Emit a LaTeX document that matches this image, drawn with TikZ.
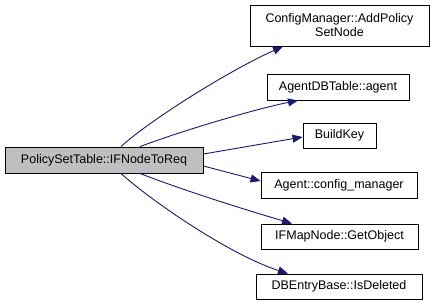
\documentclass[tikz,border=0pt]{standalone}
\usepackage{fontspec}
\setmainfont{Liberation Sans}
\usetikzlibrary{arrows.meta}
\definecolor{edgeblue}{RGB}{25,25,112}
\definecolor{rootgray}{RGB}{191,191,191}
\tikzset{
  fn/.style={draw=black, line width=0.9pt, fill=white, inner sep=0pt, font=\fontsize{12.5}{14}\selectfont, align=center},
  call/.style={draw=edgeblue, line width=0.9pt, -{Triangle[length=10pt,width=8pt]}},
}
\begin{document}
\begin{tikzpicture}[x=1pt,y=-1pt]
\useasboundingbox (0,0) rectangle (433,306);
% caller
\node[fn, fill=rootgray, minimum width=198, minimum height=26] (root) at (104,160) {PolicySetTable::IFNodeToReq};
% callees
\node[fn, minimum width=179, minimum height=41] (cm) at (339.5,25.5) {ConfigManager::AddPolicy\\SetNode};
\node[fn, minimum width=142, minimum height=26] (adb) at (338,87) {AgentDBTable::agent};
\node[fn, minimum width=73, minimum height=25] (bk) at (339.5,135.5) {BuildKey};
\node[fn, minimum width=156, minimum height=26] (acm) at (339,185) {Agent::config\_manager};
\node[fn, minimum width=157, minimum height=25] (go) at (339.5,236.5) {IFMapNode::GetObject};
\node[fn, minimum width=166, minimum height=25] (del) at (339,286.5) {DBEntryBase::IsDeleted};
% call edges
\draw[call] (root.north -| 121,0) .. controls (150,120) and (230,70) .. (cm.south -| 283,0);
\draw[call] (root.north -| 140,0) .. controls (190,128) and (260,108) .. (adb.south -| 298,0);
\draw[call] (root.east |- 0,154) -- (bk.west |- 0,137);
\draw[call] (root.east |- 0,166) -- (acm.west |- 0,181);
\draw[call] (root.south -| 140,0) .. controls (190,193) and (260,214) .. (go.north -| 292,0);
\draw[call] (root.south -| 121,0) .. controls (150,200) and (230,255) .. (del.north -| 288,0);
\end{tikzpicture}
\end{document}
